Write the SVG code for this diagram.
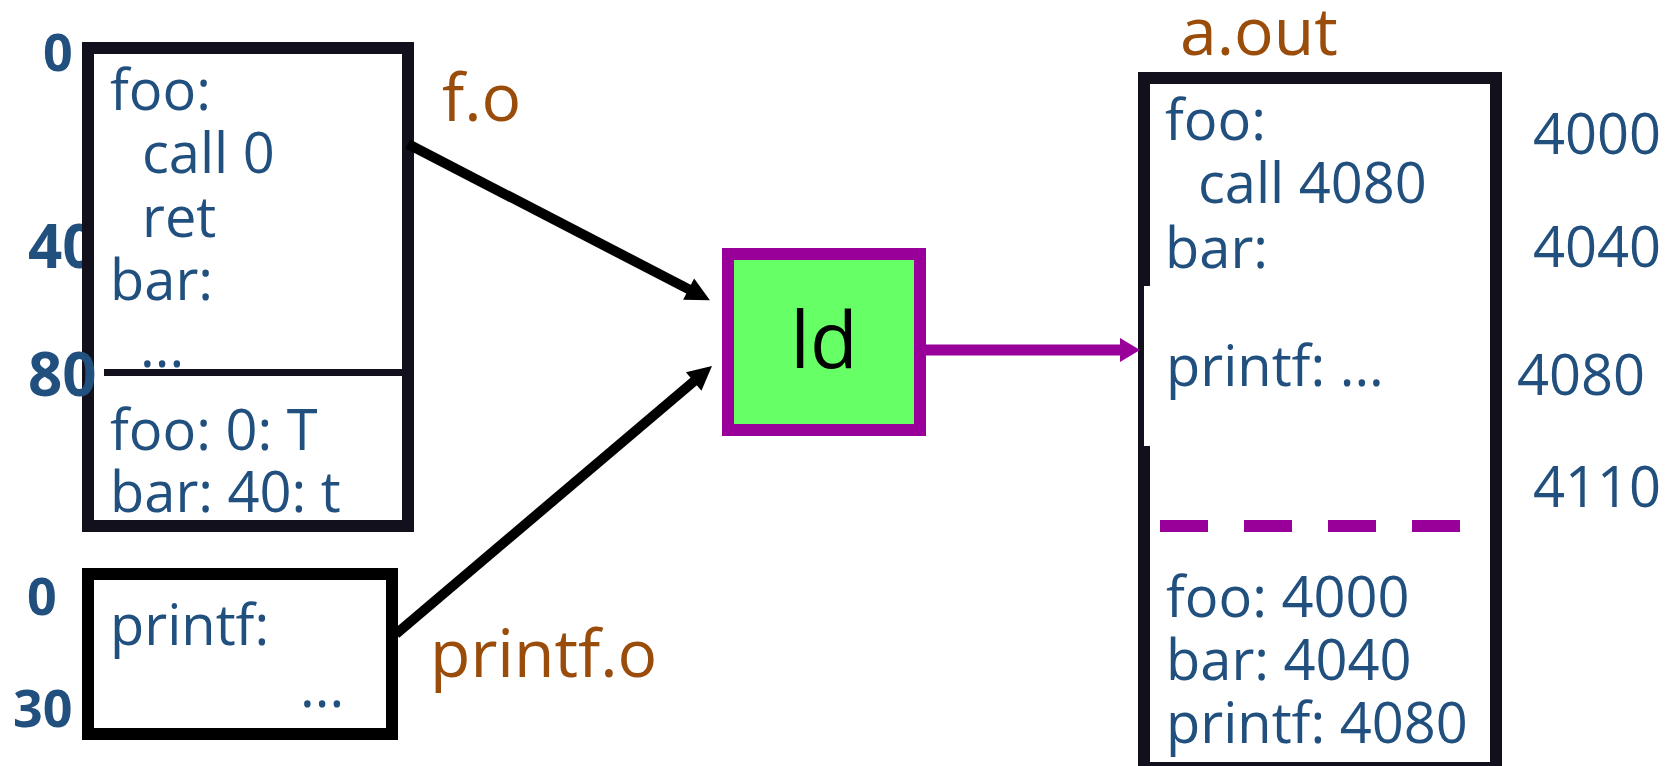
<svg xmlns="http://www.w3.org/2000/svg" width="1674" height="766" viewBox="0 0 1674 766">
  <style>
    .code { font-family: "Open Sans", "Noto Sans", sans-serif; font-size: 56px; fill: #21507f; }
    .addr { font-family: "Open Sans", "Noto Sans", sans-serif; font-weight: bold; fill: #21507f; }
    .name { font-family: "Open Sans", "Noto Sans", sans-serif; font-size: 66px; fill: #9a4c0a; }
    .box { fill: #ffffff; stroke: #11101c; stroke-width: 12; }
    .wire { stroke: #000000; stroke-width: 10; fill: none; }
  </style>
  <defs>
    <marker id="headBlack" markerUnits="userSpaceOnUse" markerWidth="30" markerHeight="30" viewBox="0 -15 30 30" refX="2" refY="0" orient="auto" overflow="visible">
      <path d="M0,-12 L24,0 L0,12 Z" fill="#000000"/>
    </marker>
    <marker id="headPurple" markerUnits="userSpaceOnUse" markerWidth="30" markerHeight="30" viewBox="0 -15 30 30" refX="2" refY="0" orient="auto" overflow="visible">
      <path d="M0,-12 L20,0 L0,12 Z" fill="#990099"/>
    </marker>
  </defs>

  <rect width="1674" height="766" fill="#ffffff"/>

  <!-- offsets beside f.o (the 40 sits under the box edge) -->
  <text class="addr" x="43" y="71" font-size="52">0</text>
  <text class="addr" x="28" y="268" font-size="60">40</text>

  <!-- object file f.o -->
  <g id="f_o">
    <rect class="box" x="88" y="48" width="320" height="478"/>
    <line x1="104" y1="372.5" x2="402" y2="372.5" stroke="#11101c" stroke-width="7"/>
    <text class="code" x="110" y="110">foo:</text>
    <text class="code" x="142" y="173">call 0</text>
    <text class="code" x="142" y="237">ret</text>
    <text class="code" x="110" y="300">bar:</text>
    <text class="code" x="140" y="367">...</text>
    <text class="code" x="110" y="450">foo: 0: T</text>
    <text class="code" x="110" y="512">bar: 40: t</text>
    <text class="name" x="442" y="121">f.o</text>
  </g>
  <text class="addr" x="28" y="396" font-size="60">80</text>

  <!-- object file printf.o -->
  <g id="printf_o">
    <text class="addr" x="27" y="615" font-size="52">0</text>
    <text class="addr" x="13" y="727" font-size="52">30</text>
    <rect x="88" y="574" width="304" height="160" fill="#ffffff" stroke="#000000" stroke-width="12"/>
    <text class="code" x="110" y="645">printf:</text>
    <text class="code" x="300" y="707">...</text>
    <text class="name" x="430" y="677">printf.o</text>
  </g>

  <!-- linker -->
  <g id="ld">
    <rect x="728" y="254" width="192" height="176" fill="#66ff66" stroke="#990099" stroke-width="12"/>
    <text x="824" y="368" text-anchor="middle" font-family="Open Sans, Noto Sans, sans-serif" font-size="78" fill="#000000">ld</text>
  </g>

  <!-- executable a.out -->
  <g id="a_out">
    <text class="name" x="1180" y="55">a.out</text>
    <rect class="box" x="1144" y="78" width="352" height="690"/>
    <rect x="1144" y="286" width="6" height="160" fill="#ffffff"/>
    <text class="code" x="1165" y="140">foo:</text>
    <text class="code" x="1198" y="203">call 4080</text>
    <text class="code" x="1165" y="268">bar:</text>
    <text class="code" x="1166" y="386">printf: ...</text>
    <line x1="1160" y1="526" x2="1460" y2="526" stroke="#990099" stroke-width="12" stroke-dasharray="48 36"/>
    <text class="code" x="1166" y="617">foo: 4000</text>
    <text class="code" x="1166" y="680">bar: 4040</text>
    <text class="code" x="1166" y="743">printf: 4080</text>
    <text class="code" x="1533" y="154">4000</text>
    <text class="code" x="1533" y="267">4040</text>
    <text class="code" x="1517" y="395">4080</text>
    <text class="code" x="1533" y="507">4110</text>
  </g>

  <!-- connectors -->
  <g id="connectors">
    <line class="wire" x1="408" y1="144" x2="690.4" y2="290.1" marker-end="url(#headBlack)"/>
    <line class="wire" x1="396" y1="634" x2="695.2" y2="380.2" marker-end="url(#headBlack)"/>
    <line x1="926" y1="350" x2="1122" y2="350" stroke="#990099" stroke-width="11" marker-end="url(#headPurple)"/>
  </g>
</svg>
